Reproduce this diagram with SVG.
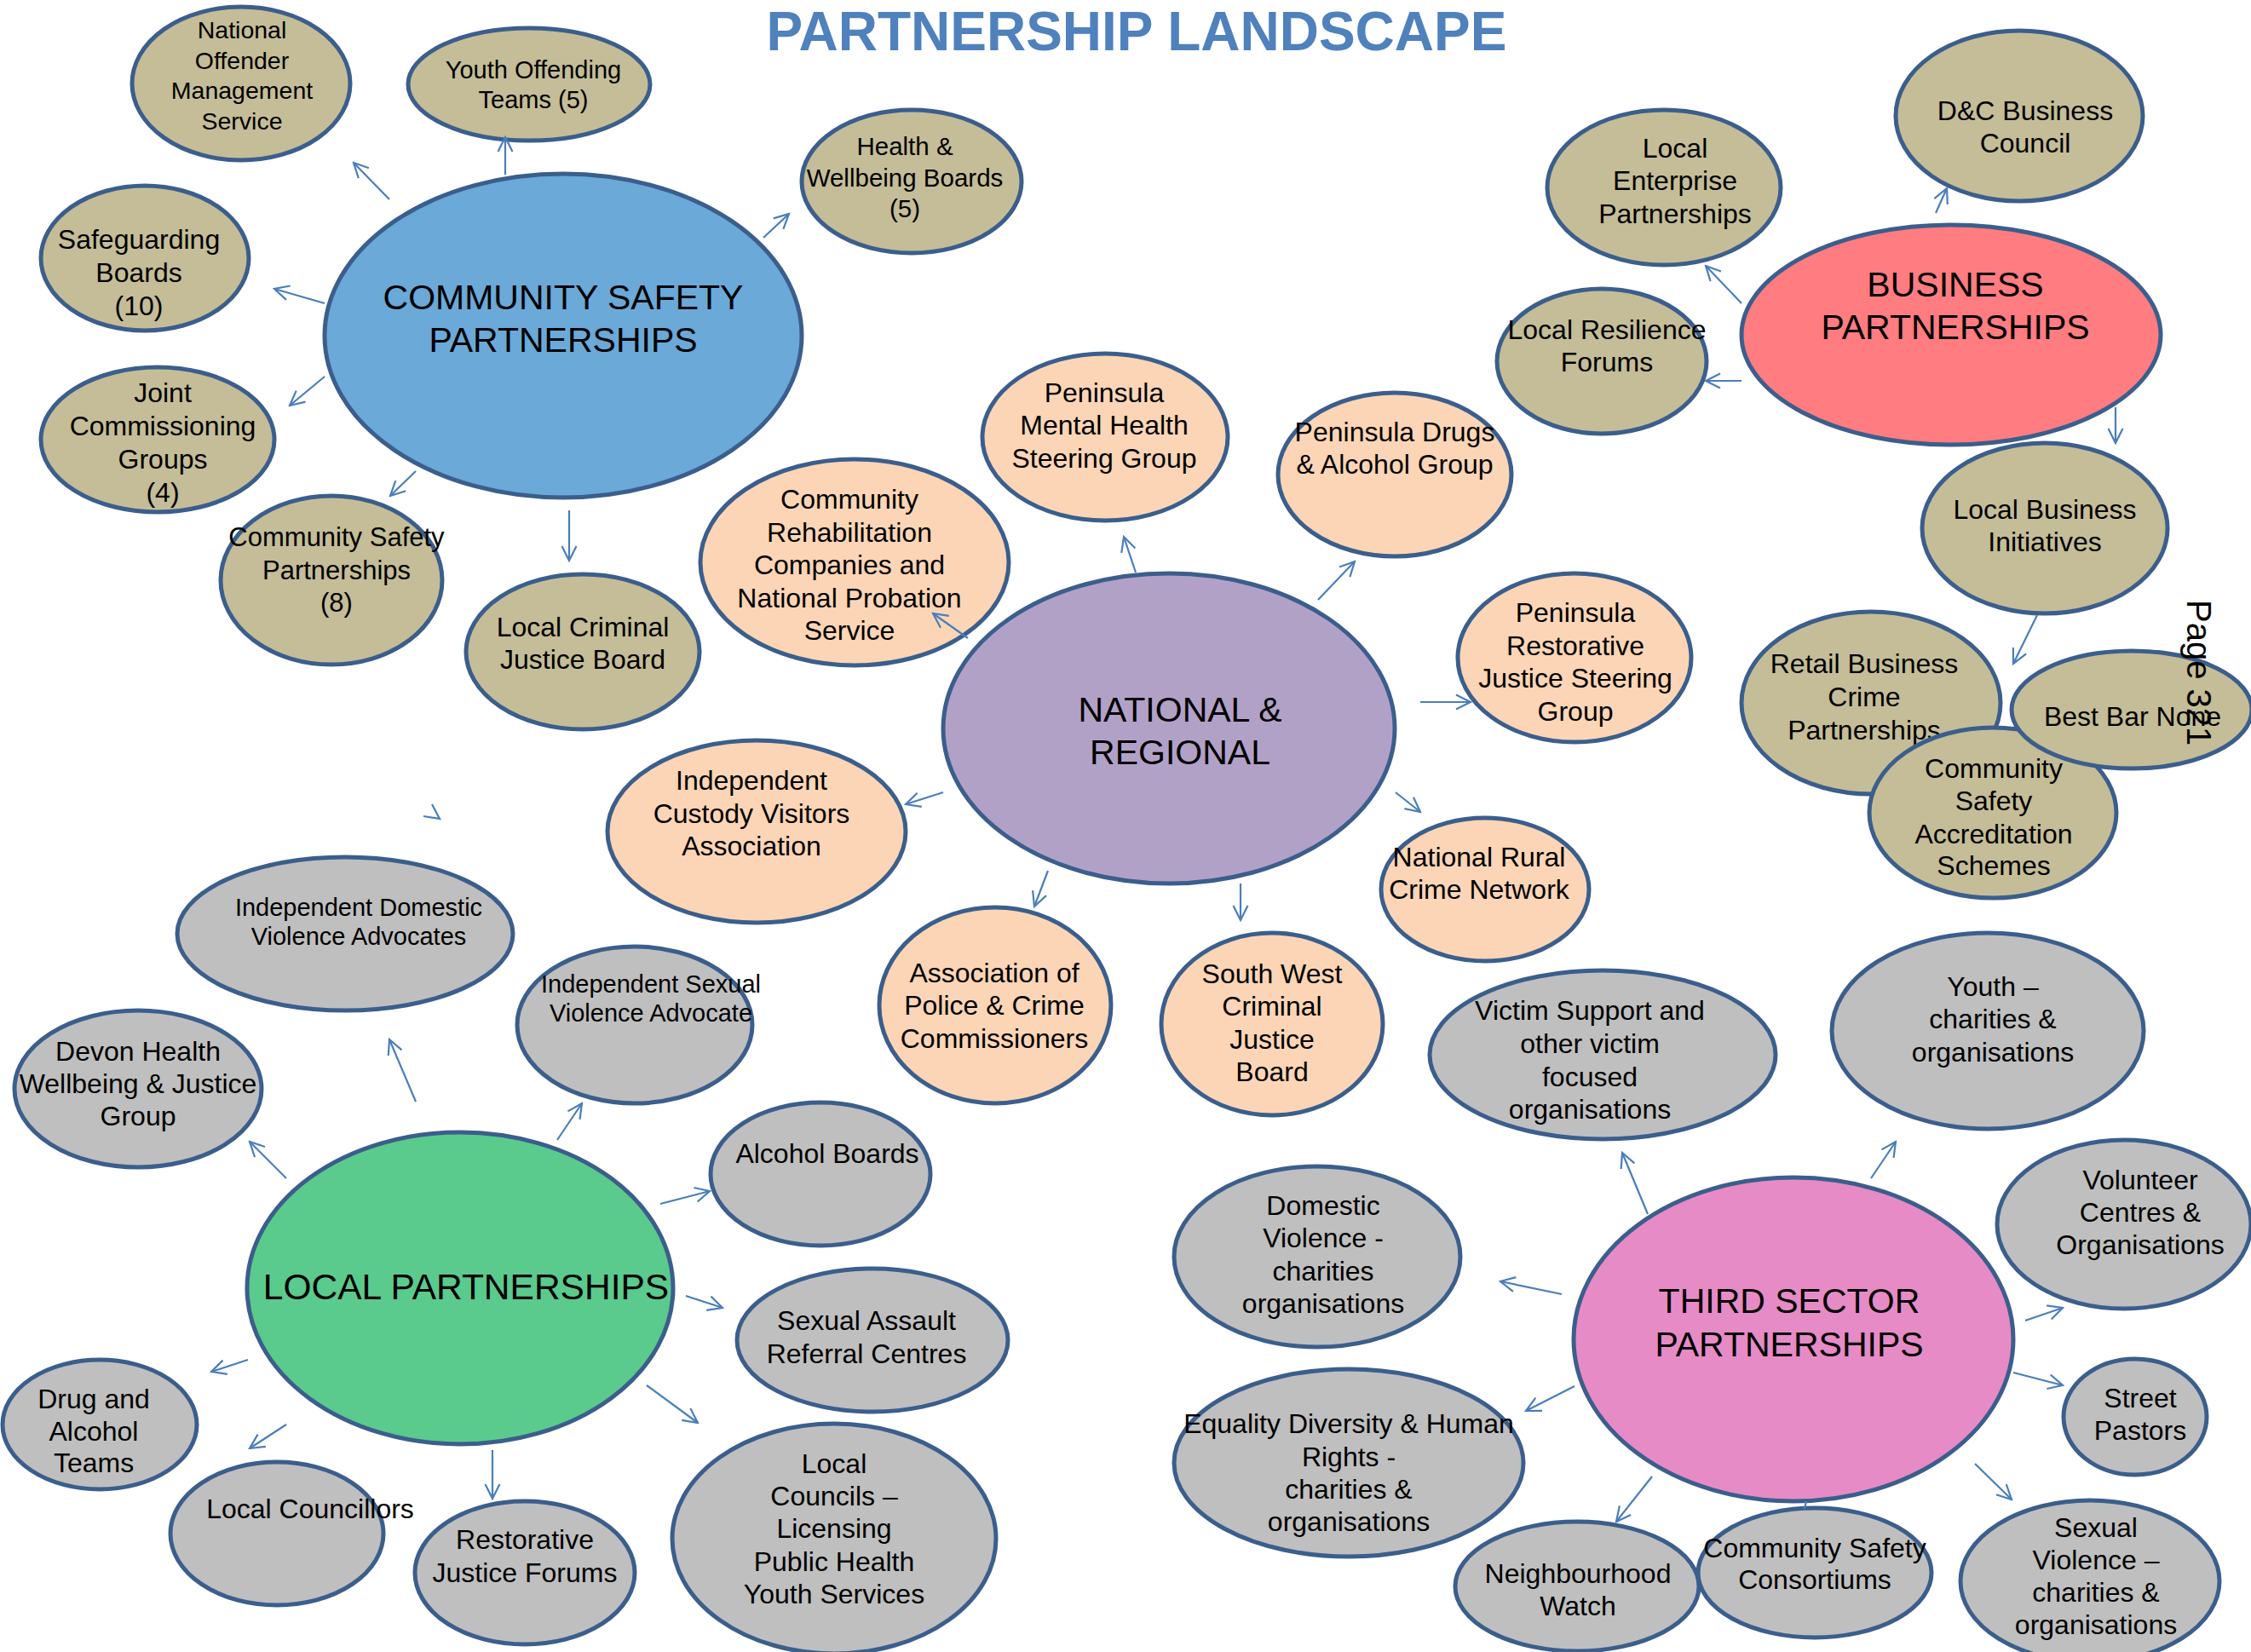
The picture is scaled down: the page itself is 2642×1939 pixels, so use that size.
<svg xmlns="http://www.w3.org/2000/svg" width="2642" height="1939" viewBox="0 0 2642 1939">
  <style>
    .n ellipse { stroke: #3B5E8C; stroke-width: 5; }
    .tan ellipse { fill: #C4BD97; }
    .peach ellipse { fill: #FBD5B5; }
    .grey ellipse { fill: #BFBFBF; }
    text { font-family: "Liberation Sans", Arial, sans-serif; text-anchor: middle; fill: #000; font-size: 32px; }
    .big text { font-size: 41px; }
    .sm text { font-size: 29px; }
    .conn line, .conn polyline { stroke: #4A7EBB; stroke-width: 2.2; fill: none; }
    .title { font-size: 64px; font-weight: bold; fill: #4F81BD; }
  </style>
  <defs>
    <marker id="ah" viewBox="0 0 20 20" refX="18" refY="10" markerWidth="20" markerHeight="20" markerUnits="userSpaceOnUse" orient="auto">
      <path d="M1,1.5 L18,10 L1,18.5" fill="none" stroke="#4A7EBB" stroke-width="2.2"/>
    </marker>
  </defs>

  <rect width="2642" height="1939" fill="#FFFFFF"/>

  <text class="title" x="1334" y="59">PARTNERSHIP LANDSCAPE</text>

  <!-- Community safety cluster -->
  <g id="noms" class="n tan sm">
    <ellipse cx="283" cy="98" rx="128" ry="90"/>
    <text style="font-size:28.5px" x="284"><tspan x="284" y="45">National</tspan><tspan x="284" y="81">Offender</tspan><tspan x="284" y="116">Management</tspan><tspan x="284" y="152">Service</tspan></text>
  </g>
  <g id="yot" class="n tan sm">
    <ellipse cx="621" cy="99" rx="142" ry="66"/>
    <text x="626"><tspan x="626" y="92">Youth Offending</tspan><tspan x="626" y="127">Teams (5)</tspan></text>
  </g>
  <g id="hwb" class="n tan">
    <ellipse cx="1070" cy="213" rx="129" ry="84"/>
    <text style="font-size:29.5px" x="1062"><tspan x="1062" y="182">Health &amp;</tspan><tspan x="1062" y="219">Wellbeing Boards</tspan><tspan x="1062" y="255">(5)</tspan></text>
  </g>
  <g id="csp-main" class="n big">
    <ellipse cx="661" cy="394" rx="280" ry="190" fill="#6AA9D8"/>
    <text x="661"><tspan x="661" y="363">COMMUNITY SAFETY</tspan><tspan x="661" y="413">PARTNERSHIPS</tspan></text>
  </g>
  <g id="safeguarding" class="n tan">
    <ellipse cx="170" cy="303" rx="122" ry="85"/>
    <text x="163"><tspan x="163" y="292">Safeguarding</tspan><tspan x="163" y="331">Boards</tspan><tspan x="163" y="370">(10)</tspan></text>
  </g>
  <g id="jcg" class="n tan">
    <ellipse cx="185" cy="516" rx="137" ry="85"/>
    <text x="191"><tspan x="191" y="472">Joint</tspan><tspan x="191" y="511">Commissioning</tspan><tspan x="191" y="550">Groups</tspan><tspan x="191" y="589">(4)</tspan></text>
  </g>
  <g id="csp8" class="n tan">
    <ellipse cx="389" cy="681" rx="130" ry="99"/>
    <text style="font-size:31px" x="395"><tspan x="395" y="641">Community Safety</tspan><tspan x="395" y="680">Partnerships</tspan><tspan x="395" y="718">(8)</tspan></text>
  </g>
  <g id="lcjb" class="n tan">
    <ellipse cx="684" cy="765" rx="137" ry="91"/>
    <text x="684"><tspan x="684" y="747">Local Criminal</tspan><tspan x="684" y="785">Justice Board</tspan></text>
  </g>

  <!-- National and regional cluster -->
  <g id="nr-main" class="n big">
    <ellipse cx="1372" cy="855" rx="265" ry="182" fill="#B2A1C7"/>
    <text x="1385"><tspan x="1385" y="847">NATIONAL &amp;</tspan><tspan x="1385" y="897">REGIONAL</tspan></text>
  </g>
  <g id="pmh" class="n peach">
    <ellipse cx="1297" cy="513" rx="144" ry="98"/>
    <text x="1296"><tspan x="1296" y="472">Peninsula</tspan><tspan x="1296" y="510">Mental Health</tspan><tspan x="1296" y="549">Steering Group</tspan></text>
  </g>
  <g id="pda" class="n peach">
    <ellipse cx="1637" cy="557" rx="137" ry="96"/>
    <text x="1637"><tspan x="1637" y="518">Peninsula Drugs</tspan><tspan x="1637" y="556">&amp; Alcohol Group</tspan></text>
  </g>
  <g id="crc" class="n peach">
    <ellipse cx="1003" cy="660" rx="181" ry="121"/>
    <text x="997"><tspan x="997" y="597">Community</tspan><tspan x="997" y="636">Rehabilitation</tspan><tspan x="997" y="674">Companies and</tspan><tspan x="997" y="713">National Probation</tspan><tspan x="997" y="751">Service</tspan></text>
  </g>
  <g id="prj" class="n peach">
    <ellipse cx="1848" cy="772" rx="137" ry="99"/>
    <text x="1849"><tspan x="1849" y="730">Peninsula</tspan><tspan x="1849" y="769">Restorative</tspan><tspan x="1849" y="807">Justice Steering</tspan><tspan x="1849" y="846">Group</tspan></text>
  </g>
  <g id="nrcn" class="n peach">
    <ellipse cx="1743" cy="1044" rx="122" ry="84"/>
    <text x="1736"><tspan x="1736" y="1017">National Rural</tspan><tspan x="1736" y="1055">Crime Network</tspan></text>
  </g>
  <g id="icva" class="n peach">
    <ellipse cx="888" cy="976" rx="175" ry="107"/>
    <text x="882"><tspan x="882" y="927">Independent</tspan><tspan x="882" y="966">Custody Visitors</tspan><tspan x="882" y="1004">Association</tspan></text>
  </g>
  <g id="apcc" class="n peach">
    <ellipse cx="1168" cy="1180" rx="136" ry="115"/>
    <text x="1167"><tspan x="1167" y="1153">Association of</tspan><tspan x="1167" y="1191">Police &amp; Crime</tspan><tspan x="1167" y="1230">Commissioners</tspan></text>
  </g>
  <g id="swcjb" class="n peach">
    <ellipse cx="1493" cy="1202" rx="130" ry="107"/>
    <text x="1493"><tspan x="1493" y="1154">South West</tspan><tspan x="1493" y="1192">Criminal</tspan><tspan x="1493" y="1231">Justice</tspan><tspan x="1493" y="1269">Board</tspan></text>
  </g>

  <!-- Business cluster -->
  <g id="bp-main" class="n big">
    <ellipse cx="2290" cy="393" rx="246" ry="129" fill="#FF7C80"/>
    <text x="2295"><tspan x="2295" y="348">BUSINESS</tspan><tspan x="2295" y="398">PARTNERSHIPS</tspan></text>
  </g>
  <g id="dcbc" class="n tan">
    <ellipse cx="2370" cy="136" rx="145" ry="100"/>
    <text x="2377"><tspan x="2377" y="141">D&amp;C Business</tspan><tspan x="2377" y="179">Council</tspan></text>
  </g>
  <g id="lep" class="n tan">
    <ellipse cx="1953" cy="220" rx="137" ry="91"/>
    <text x="1966"><tspan x="1966" y="185">Local</tspan><tspan x="1966" y="223">Enterprise</tspan><tspan x="1966" y="262">Partnerships</tspan></text>
  </g>
  <g id="lrf" class="n tan">
    <ellipse cx="1880" cy="424" rx="123" ry="85"/>
    <text x="1886"><tspan x="1886" y="398">Local Resilience</tspan><tspan x="1886" y="436">Forums</tspan></text>
  </g>
  <g id="lbi" class="n tan">
    <ellipse cx="2400" cy="620" rx="144" ry="100"/>
    <text x="2400"><tspan x="2400" y="609">Local Business</tspan><tspan x="2400" y="647">Initiatives</tspan></text>
  </g>
  <g id="rbcp" class="n tan">
    <ellipse cx="2196" cy="825" rx="152" ry="107"/>
    <text x="2188"><tspan x="2188" y="790">Retail Business</tspan><tspan x="2188" y="829">Crime</tspan><tspan x="2188" y="868">Partnerships</tspan></text>
  </g>
  <g id="csas" class="n tan">
    <ellipse cx="2339" cy="954" rx="145" ry="100"/>
    <text x="2340"><tspan x="2340" y="913">Community</tspan><tspan x="2340" y="951">Safety</tspan><tspan x="2340" y="990">Accreditation</tspan><tspan x="2340" y="1027">Schemes</tspan></text>
  </g>
  <g id="bbn" class="n tan">
    <ellipse cx="2502" cy="833" rx="141" ry="69"/>
    <text x="2503" y="852">Best Bar None</text>
  </g>

  <!-- Local partnerships cluster -->
  <g id="lp-main" class="n big">
    <ellipse cx="540" cy="1512" rx="250" ry="183" fill="#5BCA8D"/>
    <text style="font-size:42.5px" x="547" y="1525">LOCAL PARTNERSHIPS</text>
  </g>
  <g id="idva" class="n grey sm">
    <ellipse cx="405" cy="1096" rx="197" ry="90"/>
    <text x="421"><tspan x="421" y="1075">Independent Domestic</tspan><tspan x="421" y="1109">Violence Advocates</tspan></text>
  </g>
  <g id="isva" class="n grey sm">
    <ellipse cx="745" cy="1203" rx="138" ry="92"/>
    <text x="764"><tspan x="764" y="1165">Independent Sexual</tspan><tspan x="764" y="1199">Violence Advocate</tspan></text>
  </g>
  <g id="dhwj" class="n grey">
    <ellipse cx="162" cy="1278" rx="145" ry="92"/>
    <text x="162"><tspan x="162" y="1245">Devon Health</tspan><tspan x="162" y="1283">Wellbeing &amp; Justice</tspan><tspan x="162" y="1321">Group</tspan></text>
  </g>
  <g id="dat" class="n grey">
    <ellipse cx="117" cy="1672" rx="114" ry="76"/>
    <text x="110"><tspan x="110" y="1653">Drug and</tspan><tspan x="110" y="1691">Alcohol</tspan><tspan x="110" y="1728">Teams</tspan></text>
  </g>
  <g id="lcllr" class="n grey">
    <ellipse cx="325" cy="1800" rx="125" ry="84"/>
    <text x="364" y="1782">Local Councillors</text>
  </g>
  <g id="rjf" class="n grey">
    <ellipse cx="616" cy="1846" rx="129" ry="84"/>
    <text x="616"><tspan x="616" y="1818">Restorative</tspan><tspan x="616" y="1857">Justice Forums</tspan></text>
  </g>
  <g id="ab" class="n grey">
    <ellipse cx="963" cy="1378" rx="129" ry="84"/>
    <text x="971" y="1365">Alcohol Boards</text>
  </g>
  <g id="sarc" class="n grey">
    <ellipse cx="1024" cy="1573" rx="159" ry="84"/>
    <text x="1017"><tspan x="1017" y="1561">Sexual Assault</tspan><tspan x="1017" y="1600">Referral Centres</tspan></text>
  </g>
  <g id="lc" class="n grey">
    <ellipse cx="979" cy="1806" rx="190" ry="135"/>
    <text x="979"><tspan x="979" y="1729">Local</tspan><tspan x="979" y="1767">Councils –</tspan><tspan x="979" y="1805">Licensing</tspan><tspan x="979" y="1844">Public Health</tspan><tspan x="979" y="1882">Youth Services</tspan></text>
  </g>

  <!-- Third sector cluster -->
  <g id="ts-main" class="n big">
    <ellipse cx="2105" cy="1572" rx="258" ry="190" fill="#E68BC6"/>
    <text x="2100"><tspan x="2100" y="1541">THIRD SECTOR</tspan><tspan x="2100" y="1592">PARTNERSHIPS</tspan></text>
  </g>
  <g id="vs" class="n grey">
    <ellipse cx="1881" cy="1238" rx="203" ry="99"/>
    <text x="1866"><tspan x="1866" y="1197">Victim Support and</tspan><tspan x="1866" y="1236">other victim</tspan><tspan x="1866" y="1275">focused</tspan><tspan x="1866" y="1313">organisations</tspan></text>
  </g>
  <g id="youth" class="n grey">
    <ellipse cx="2333" cy="1210" rx="183" ry="115"/>
    <text x="2339"><tspan x="2339" y="1169">Youth –</tspan><tspan x="2339" y="1207">charities &amp;</tspan><tspan x="2339" y="1246">organisations</tspan></text>
  </g>
  <g id="vol" class="n grey">
    <ellipse cx="2493" cy="1437" rx="149" ry="99"/>
    <text x="2512"><tspan x="2512" y="1396">Volunteer</tspan><tspan x="2512" y="1434">Centres &amp;</tspan><tspan x="2512" y="1472">Organisations</tspan></text>
  </g>
  <g id="sp" class="n grey">
    <ellipse cx="2506" cy="1663" rx="84" ry="68"/>
    <text x="2512"><tspan x="2512" y="1652">Street</tspan><tspan x="2512" y="1690">Pastors</tspan></text>
  </g>
  <g id="sv" class="n grey">
    <ellipse cx="2453" cy="1856" rx="152" ry="95"/>
    <text x="2460"><tspan x="2460" y="1804">Sexual</tspan><tspan x="2460" y="1842">Violence –</tspan><tspan x="2460" y="1880">charities &amp;</tspan><tspan x="2460" y="1918">organisations</tspan></text>
  </g>
  <g id="nw" class="n grey">
    <ellipse cx="1851" cy="1862" rx="143" ry="76"/>
    <text x="1852"><tspan x="1852" y="1858">Neighbourhood</tspan><tspan x="1852" y="1896">Watch</tspan></text>
  </g>
  <g id="csc" class="n grey">
    <ellipse cx="2130" cy="1846" rx="137" ry="76"/>
    <text x="2130"><tspan x="2130" y="1828">Community Safety</tspan><tspan x="2130" y="1865">Consortiums</tspan></text>
  </g>
  <g id="dv" class="n grey">
    <ellipse cx="1546" cy="1475" rx="168" ry="106"/>
    <text x="1553"><tspan x="1553" y="1426">Domestic</tspan><tspan x="1553" y="1464">Violence -</tspan><tspan x="1553" y="1503">charities</tspan><tspan x="1553" y="1541">organisations</tspan></text>
  </g>
  <g id="edhr" class="n grey">
    <ellipse cx="1583" cy="1717" rx="205" ry="110"/>
    <text x="1583"><tspan x="1583" y="1682">Equality Diversity &amp; Human</tspan><tspan x="1583" y="1721">Rights -</tspan><tspan x="1583" y="1759">charities &amp;</tspan><tspan x="1583" y="1797">organisations</tspan></text>
  </g>

  <!-- Connectors -->
  <g id="connectors" class="conn">
    <line x1="457" y1="234" x2="415" y2="191" marker-end="url(#ah)"/>
    <line x1="593" y1="205" x2="593" y2="161" marker-end="url(#ah)"/>
    <line x1="896" y1="279" x2="926" y2="251" marker-end="url(#ah)"/>
    <line x1="381" y1="356" x2="322" y2="339" marker-end="url(#ah)"/>
    <line x1="381" y1="442" x2="340" y2="476" marker-end="url(#ah)"/>
    <line x1="488" y1="553" x2="458" y2="582" marker-end="url(#ah)"/>
    <line x1="668" y1="599" x2="668" y2="658" marker-end="url(#ah)"/>
    <polyline points="507,944 516,961 497,958"/>

    <line x1="1333" y1="672" x2="1319" y2="630" marker-end="url(#ah)"/>
    <line x1="1547" y1="704" x2="1590" y2="659" marker-end="url(#ah)"/>
    <line x1="1136" y1="749" x2="1095" y2="720" marker-end="url(#ah)"/>
    <line x1="1667" y1="824" x2="1726" y2="824" marker-end="url(#ah)"/>
    <line x1="1638" y1="930" x2="1667" y2="953" marker-end="url(#ah)"/>
    <line x1="1107" y1="930" x2="1063" y2="944" marker-end="url(#ah)"/>
    <line x1="1230" y1="1022" x2="1214" y2="1064" marker-end="url(#ah)"/>
    <line x1="1456" y1="1037" x2="1456" y2="1080" marker-end="url(#ah)"/>

    <line x1="2044" y1="356" x2="2002" y2="312" marker-end="url(#ah)"/>
    <line x1="2272" y1="250" x2="2285" y2="221" marker-end="url(#ah)"/>
    <line x1="2044" y1="447" x2="2002" y2="447" marker-end="url(#ah)"/>
    <line x1="2483" y1="478" x2="2483" y2="520" marker-end="url(#ah)"/>
    <line x1="2391" y1="722" x2="2363" y2="779" marker-end="url(#ah)"/>

    <line x1="488" y1="1293" x2="457" y2="1220" marker-end="url(#ah)"/>
    <line x1="654" y1="1338" x2="683" y2="1295" marker-end="url(#ah)"/>
    <line x1="336" y1="1383" x2="293" y2="1340" marker-end="url(#ah)"/>
    <line x1="775" y1="1413" x2="833" y2="1398" marker-end="url(#ah)"/>
    <line x1="805" y1="1521" x2="848" y2="1535" marker-end="url(#ah)"/>
    <line x1="759" y1="1626" x2="819" y2="1670" marker-end="url(#ah)"/>
    <line x1="291" y1="1596" x2="248" y2="1610" marker-end="url(#ah)"/>
    <line x1="336" y1="1672" x2="293" y2="1700" marker-end="url(#ah)"/>
    <line x1="578" y1="1702" x2="578" y2="1759" marker-end="url(#ah)"/>

    <line x1="1934" y1="1425" x2="1904" y2="1353" marker-end="url(#ah)"/>
    <line x1="2196" y1="1383" x2="2225" y2="1340" marker-end="url(#ah)"/>
    <line x1="1833" y1="1519" x2="1761" y2="1504" marker-end="url(#ah)"/>
    <line x1="2377" y1="1550" x2="2421" y2="1535" marker-end="url(#ah)"/>
    <line x1="2363" y1="1611" x2="2421" y2="1626" marker-end="url(#ah)"/>
    <line x1="1848" y1="1627" x2="1791" y2="1656" marker-end="url(#ah)"/>
    <line x1="1939" y1="1733" x2="1897" y2="1786" marker-end="url(#ah)"/>
    <line x1="2318" y1="1718" x2="2361" y2="1760" marker-end="url(#ah)"/>
    <line x1="2120" y1="1762" x2="2118" y2="1771"/>
  </g>

  <text style="font-size:40px; text-anchor:start" transform="translate(2567,704) rotate(90)">Page 321</text>
</svg>
